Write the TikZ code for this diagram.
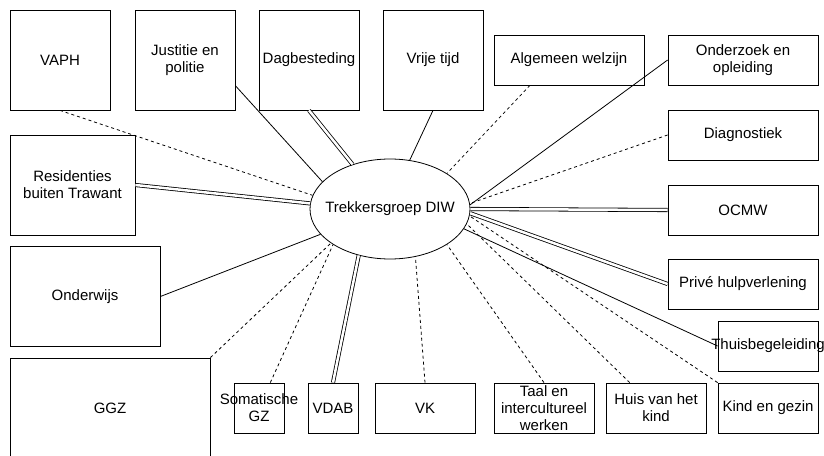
\documentclass[tikz,border=0pt]{standalone}
\usepackage{fontspec}
\setmainfont{Liberation Sans}
\usetikzlibrary{shapes.geometric}

\tikzset{
  orgbox/.style={draw, inner sep=0pt},
  tracejada/.style={dash pattern=on 3pt off 3pt},
  dupla/.style={double, double distance=2.5pt},
  every label/.style={align=center}
}

\begin{document}
\begin{tikzpicture}[x=1pt, y=-1pt, line width=0.8pt, font=\fontsize{15}{17}\selectfont]
\useasboundingbox (0,0) rectangle (824,455);
% Centro
\node[draw, ellipse, minimum width=160pt, minimum height=100pt, inner sep=0pt, label=center:Trekkersgroep DIW] (trekkers) at (390,209) {};
% Caixas em cima
\node[orgbox, minimum width=100pt, minimum height=100pt, label=center:VAPH] (vaph) at (60,60) {};
\node[orgbox, minimum width=100pt, minimum height=100pt, label={center:Justitie en\\politie}] (justitie) at (185,60) {};
\node[orgbox, minimum width=100pt, minimum height=100pt, label=center:Dagbesteding] (dagbesteding) at (309,60) {};
\node[orgbox, minimum width=100pt, minimum height=100pt, label=center:Vrije tijd] (vrije) at (433,60) {};
\node[orgbox, minimum width=150pt, minimum height=50pt, label=center:Algemeen welzijn] (welzijn) at (569,60) {};
% Caixas a esquerda
\node[orgbox, minimum width=125pt, minimum height=100pt, label={center:Residenties\\buiten Trawant}] (residenties) at (72.5,185) {};
\node[orgbox, minimum width=150pt, minimum height=100pt, label=center:Onderwijs] (onderwijs) at (85,296.5) {};
\node[orgbox, minimum width=200pt, minimum height=100pt, label=center:GGZ] (ggz) at (110,408) {};
% Caixas a direita
\node[orgbox, minimum width=150pt, minimum height=50pt, label={center:Onderzoek en\\opleiding}] (onderzoek) at (743,60) {};
\node[orgbox, minimum width=150pt, minimum height=50pt, label=center:Diagnostiek] (diagnostiek) at (743,135) {};
\node[orgbox, minimum width=150pt, minimum height=50pt, label=center:OCMW] (ocmw) at (743,210) {};
\node[orgbox, minimum width=150pt, minimum height=50pt, label=center:Privé hulpverlening] (prive) at (743,284) {};
\node[orgbox, minimum width=100pt, minimum height=50pt, label=center:Thuisbegeleiding] (thuis) at (768,346) {};
% Caixas em baixo
\node[orgbox, minimum width=50pt, minimum height=50pt, label={center:Somatische\\GZ}] (somatische) at (259,408) {};
\node[orgbox, minimum width=50pt, minimum height=50pt, label=center:VDAB] (vdab) at (333,408) {};
\node[orgbox, minimum width=100pt, minimum height=50pt, label=center:VK] (vk) at (425,408) {};
\node[orgbox, minimum width=100pt, minimum height=50pt, label={center:Taal en\\intercultureel\\werken}] (taal) at (544,408) {};
\node[orgbox, minimum width=100pt, minimum height=50pt, label={center:Huis van het\\kind}] (huis) at (656,408) {};
\node[orgbox, minimum width=100pt, minimum height=50pt, label=center:Kind en gezin] (kind) at (768,408) {};
% Ligacoes
\draw[tracejada] (vaph.south) -- (trekkers.170);
\draw (justitie.-27) -- (trekkers.158);
\draw[dupla] (dagbesteding.south) -- (trekkers.130);
\draw (vrije.south) -- (trekkers.68);
\draw[dupla] (residenties.east) -- (trekkers.176);
\draw[tracejada] (welzijn.213) -- (trekkers.32);
\draw (onderzoek.west) -- (trekkers.3);
\draw[tracejada] (diagnostiek.west) -- (trekkers.4);
\draw[dupla] (ocmw.west) -- (trekkers.0);
\draw[dupla] (prive.west) -- (trekkers.-3);
\draw (thuis.west) -- (trekkers.-15);
\draw[tracejada] (kind.north west) -- (trekkers.-5);
\draw[tracejada] (huis.136) -- (trekkers.-11);
\draw[tracejada] (taal.north) -- (trekkers.-32);
\draw[tracejada] (vk.north) -- (trekkers.-62);
\draw[dupla] (vdab.north) -- (trekkers.-124);
\draw[tracejada] (somatische.66) -- (trekkers.212);
\draw[tracejada] (ggz.north east) -- (trekkers.210);
\draw (onderwijs.east) -- (trekkers.200);
\end{tikzpicture}
\end{document}
